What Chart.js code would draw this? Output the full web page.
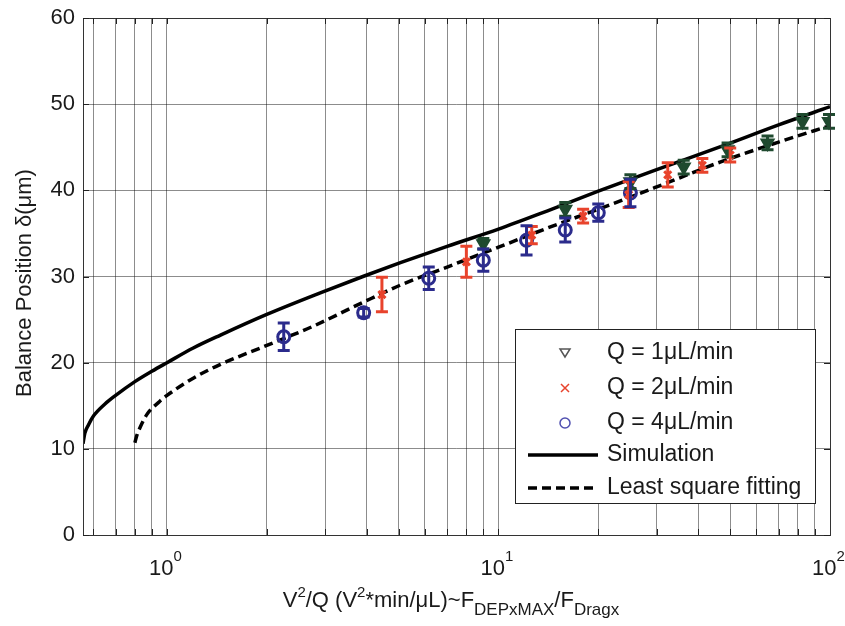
<!DOCTYPE html>
<html>
<head>
<meta charset="utf-8">
<script src="https://cdn.jsdelivr.net/npm/chart.js@4/dist/chart.umd.min.js"></script>
<style>
  body { margin: 0; background: #fff; }
  #wrap { width: 845px; height: 626px; position: relative; }
</style>
</head>
<body>
<div id="wrap"><canvas id="chart"></canvas></div>
<script>
// measured values
const q1X = [9.0, 15.9, 25.0, 36.2, 49.1, 64.8, 82.6, 99.3];
const q1Y = [33.8, 37.8, 41.0, 42.7, 44.7, 45.5, 48.0, 48.0];
const q1Err = [0.6, 0.8, 0.8, 0.8, 0.8, 0.8, 0.8, 0.8];

const q2X = [4.45, 8.0, 12.6, 18.0, 24.7, 32.4, 41.2, 50.0];
const q2Y = [27.9, 31.7, 34.8, 37.0, 39.5, 41.8, 42.9, 44.1];
const q2Err = [2.0, 1.8, 1.0, 0.8, 1.5, 1.4, 0.8, 0.8];

const q4X = [2.25, 3.92, 6.16, 9.0, 12.15, 15.9, 20.0, 25.0];
const q4Y = [23.0, 25.8, 29.8, 31.9, 34.2, 35.4, 37.4, 39.7];
const q4Err = [1.6, 0.5, 1.3, 1.3, 1.7, 1.4, 1.0, 1.6];

const simX = [0.558, 0.565, 0.58, 0.6, 0.65, 0.7, 0.8, 0.9, 1.0, 1.2, 1.45, 2.0, 2.9, 3.9, 5.06, 7.0, 10, 14, 20, 30, 47, 70, 100];
const simY = [10.6, 11.8, 12.8, 13.8, 15.2, 16.2, 17.8, 19.0, 20.0, 21.7, 23.2, 25.6, 28.1, 30.0, 31.6, 33.5, 35.5, 37.6, 39.9, 42.4, 45.1, 47.6, 49.7];

const fitX = [0.80, 0.81, 0.83, 0.87, 0.95, 1.0, 1.2, 1.45, 2.0, 2.25, 2.75, 3.9, 5.06, 7.0, 10, 14, 20.3, 30, 46.8, 70, 100];
const fitY = [10.7, 11.5, 12.5, 14.0, 15.5, 16.2, 18.2, 19.8, 22.0, 22.8, 24.2, 27.0, 29.0, 31.1, 33.4, 35.6, 37.9, 40.4, 43.3, 45.6, 47.5];

const yTicks = [0, 10, 20, 30, 40, 50, 60];
const xMajor = [1, 10, 100];

const GREEN = "#1f4a2f";
const RED = "#e8432c";
const BLUE = "#2b2b8c";
const FONT = "'Liberation Sans', Arial, sans-serif";

const pts = (xs, ys) => xs.map((x, i) => ({ x, y: ys[i] }));

const errorBars = {
  id: "errorBars",
  afterDatasetsDraw(chart) {
    const { ctx, scales } = chart;
    const groups = [
      [q1X, q1Y, q1Err, GREEN],
      [q2X, q2Y, q2Err, RED],
      [q4X, q4Y, q4Err, BLUE],
    ];
    ctx.save();
    ctx.lineWidth = 3;
    for (const [xs, ys, es, color] of groups) {
      ctx.strokeStyle = color;
      xs.forEach((x, i) => {
        const px = scales.x.getPixelForValue(x);
        const top = scales.y.getPixelForValue(ys[i] + es[i]);
        const bot = scales.y.getPixelForValue(ys[i] - es[i]);
        ctx.beginPath();
        ctx.moveTo(px, top); ctx.lineTo(px, bot);
        ctx.moveTo(px - 6, top); ctx.lineTo(px + 6, top);
        ctx.moveTo(px - 6, bot); ctx.lineTo(px + 6, bot);
        ctx.stroke();
      });
    }
    ctx.restore();
  },
};

function drawParts(ctx, parts, x, baseline) {
  for (const [text, size, dy] of parts) {
    ctx.font = size + "px " + FONT;
    ctx.fillText(text, x, baseline + dy);
    x += ctx.measureText(text).width;
  }
}

function partsWidth(ctx, parts) {
  let w = 0;
  for (const [text, size] of parts) {
    ctx.font = size + "px " + FONT;
    w += ctx.measureText(text).width;
  }
  return w;
}

const decorations = {
  id: "decorations",
  afterDraw(chart) {
    const { ctx, chartArea: a, scales } = chart;
    ctx.save();
    ctx.fillStyle = "#1a1a1a";

    // frame
    ctx.strokeStyle = "#333";
    ctx.lineWidth = 1;
    ctx.strokeRect(a.left + 0.5, a.top + 0.5, a.right - a.left, a.bottom - a.top);

    // small inner ticks
    ctx.strokeStyle = "#222";
    ctx.beginPath();
    scales.x.ticks.forEach((t) => {
      const px = Math.round(scales.x.getPixelForValue(t.value)) + 0.5;
      ctx.moveTo(px, a.bottom); ctx.lineTo(px, a.bottom - 6);
      ctx.moveTo(px, a.top); ctx.lineTo(px, a.top + 6);
    });
    yTicks.forEach((v) => {
      const py = Math.round(scales.y.getPixelForValue(v)) + 0.5;
      ctx.moveTo(a.left, py); ctx.lineTo(a.left + 6, py);
      ctx.moveTo(a.right, py); ctx.lineTo(a.right - 6, py);
    });
    ctx.stroke();

    // y tick labels
    ctx.font = "22px " + FONT;
    ctx.textAlign = "right";
    ctx.textBaseline = "middle";
    yTicks.forEach((v) => ctx.fillText(String(v), 75, scales.y.getPixelForValue(v)));

    // x tick labels 10^n
    ctx.textAlign = "left";
    ctx.textBaseline = "alphabetic";
    xMajor.forEach((v) => {
      const px = scales.x.getPixelForValue(v);
      drawParts(ctx, [["10", 22, 0], [String(Math.round(Math.log10(v))), 15, -14]], px - 18, 575);
    });

    // x title
    const xt = [
      ["V", 22, 0], ["2", 15, -10], ["/Q (V", 22, 0], ["2", 15, -10],
      ["*min/\u03bcL)~F", 22, 0], ["DEPxMAX", 17, 8], ["/F", 22, 0], ["Dragx", 17, 8],
    ];
    drawParts(ctx, xt, 451 - partsWidth(ctx, xt) / 2, 607);

    // y title
    ctx.save();
    ctx.translate(31, 283);
    ctx.rotate(-Math.PI / 2);
    ctx.textAlign = "center";
    ctx.font = "22px " + FONT;
    ctx.fillText("Balance Position \u03b4(\u03bcm)", 0, 0);
    ctx.restore();

    // legend
    const lx = 515, ly = 329, lw = 300, lh = 174;
    ctx.fillStyle = "#fff";
    ctx.fillRect(lx, ly, lw, lh);
    ctx.strokeStyle = "#222";
    ctx.lineWidth = 1;
    ctx.strokeRect(lx + 0.5, ly + 0.5, lw, lh);

    const rows = [353, 388, 423, 455, 488];
    const labels = ["Q = 1\u03bcL/min", "Q = 2\u03bcL/min", "Q = 4\u03bcL/min", "Simulation", "Least square fitting"];
    ctx.fillStyle = "#1a1a1a";
    ctx.font = "23px " + FONT;
    ctx.textAlign = "left";
    ctx.textBaseline = "middle";
    labels.forEach((t, i) => ctx.fillText(t, 607, rows[i]));

    // legend symbols
    ctx.lineWidth = 1.5;
    ctx.strokeStyle = "#555";
    ctx.beginPath();
    ctx.moveTo(560, rows[0] - 4); ctx.lineTo(570, rows[0] - 4); ctx.lineTo(565, rows[0] + 4); ctx.closePath();
    ctx.stroke();
    ctx.strokeStyle = RED;
    ctx.beginPath();
    ctx.moveTo(561, rows[1] - 4); ctx.lineTo(569, rows[1] + 4);
    ctx.moveTo(569, rows[1] - 4); ctx.lineTo(561, rows[1] + 4);
    ctx.stroke();
    ctx.strokeStyle = "#5050b0";
    ctx.beginPath();
    ctx.arc(565, rows[2], 5, 0, Math.PI * 2);
    ctx.stroke();
    ctx.strokeStyle = "#000";
    ctx.lineWidth = 3.5;
    ctx.beginPath();
    ctx.moveTo(528, rows[3]); ctx.lineTo(598, rows[3]);
    ctx.stroke();
    ctx.setLineDash([9, 5]);
    ctx.beginPath();
    ctx.moveTo(528, rows[4]); ctx.lineTo(598, rows[4]);
    ctx.stroke();
    ctx.restore();
  },
};

const ctx = document.getElementById("chart");

new Chart(ctx, {
  type: "scatter",
  data: {
    datasets: [
      {
        label: "Simulation",
        type: "line",
        data: pts(simX, simY),
        borderColor: "#000",
        borderWidth: 3.5,
        pointRadius: 0,
        cubicInterpolationMode: "monotone",
        order: 2,
      },
      {
        label: "Least square fitting",
        type: "line",
        data: pts(fitX, fitY),
        borderColor: "#000",
        borderWidth: 3.5,
        borderDash: [9, 5],
        pointRadius: 0,
        cubicInterpolationMode: "monotone",
        order: 2,
      },
      {
        label: "Q = 1\u03bcL/min",
        data: pts(q1X, q1Y),
        pointStyle: "triangle",
        rotation: 180,
        radius: 7,
        borderColor: GREEN,
        backgroundColor: GREEN,
        borderWidth: 2,
        order: 1,
      },
      {
        label: "Q = 2\u03bcL/min",
        data: pts(q2X, q2Y),
        pointStyle: "crossRot",
        radius: 5,
        borderColor: RED,
        borderWidth: 3,
        order: 1,
      },
      {
        label: "Q = 4\u03bcL/min",
        data: pts(q4X, q4Y),
        pointStyle: "circle",
        radius: 6,
        borderColor: BLUE,
        backgroundColor: "rgba(0,0,0,0)",
        borderWidth: 3,
        order: 1,
      },
    ],
  },
  options: {
    responsive: true,
    maintainAspectRatio: false,
    animation: false,
    layout: { padding: { left: 83, right: 15, top: 18, bottom: 91 } },
    plugins: { legend: { display: false }, tooltip: { enabled: false } },
    scales: {
      x: {
        type: "logarithmic",
        min: 0.558,
        max: 100,
        afterBuildTicks: (scale) => {
          const t = [];
          for (const d of [0.1, 1, 10]) for (let k = 1; k <= 9; k++) t.push(d * k);
          scale.ticks = t.filter((v) => v > 0.559 && v < 99.9).map((v) => ({ value: v }));
        },
        ticks: { display: false },
        grid: { color: "rgba(0,0,0,0.45)", lineWidth: 1, drawTicks: false },
        border: { display: false },
      },
      y: {
        min: 0,
        max: 60,
        afterBuildTicks: (scale) => {
          scale.ticks = yTicks.map((v) => ({ value: v }));
        },
        ticks: { display: false },
        grid: { color: "rgba(0,0,0,0.45)", lineWidth: 1, drawTicks: false },
        border: { display: false },
      },
    },
  },
  plugins: [errorBars, decorations],
});
</script>
</body>
</html>
